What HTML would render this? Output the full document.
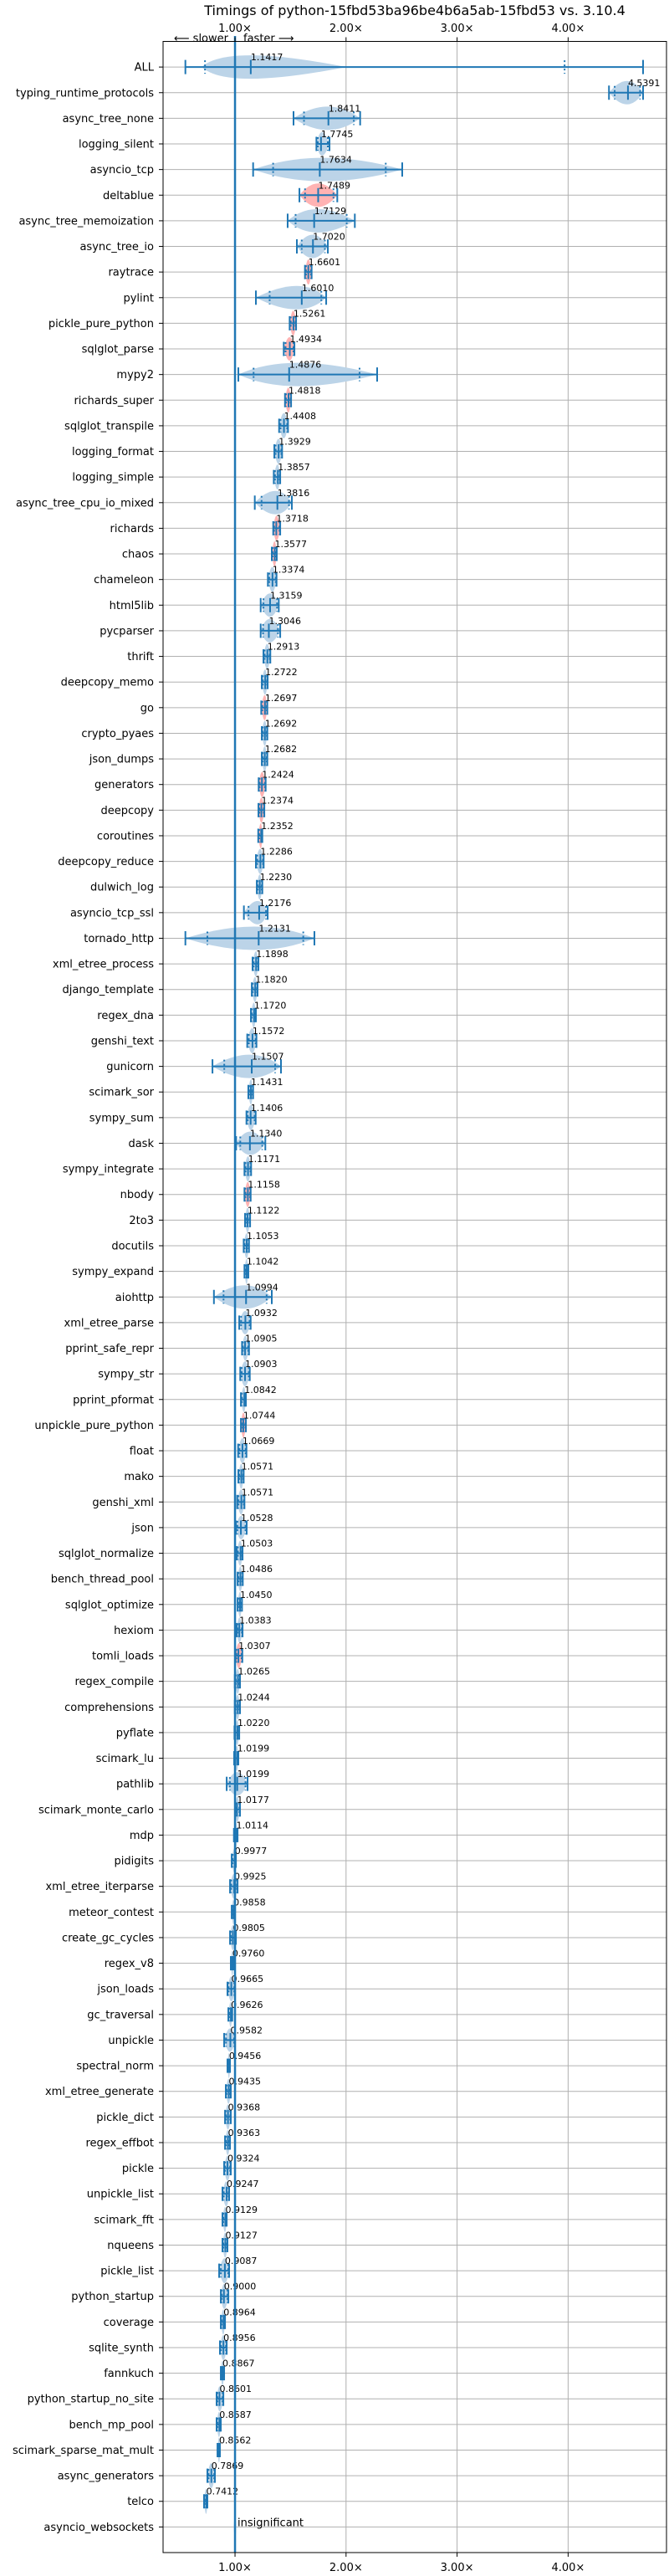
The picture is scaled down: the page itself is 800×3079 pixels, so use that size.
<!DOCTYPE html>
<html><head><meta charset="utf-8"><style>
html,body{margin:0;padding:0;background:#fff;}
svg{display:block;font-family:"DejaVu Sans","Liberation Sans",sans-serif;}
</style></head><body>
<svg id="chart" width="800" height="3079" viewBox="0 0 800 3079" xmlns="http://www.w3.org/2000/svg">
<text x="496" y="18" font-size="16" text-anchor="middle" fill="#000">Timings of python-15fbd53ba96be4b6a5ab-15fbd53 vs. 3.10.4</text>
<text x="281" y="50" font-size="13" fill="#000"><tspan text-anchor="end" x="273">⟵ slower</tspan><tspan x="291">faster ⟶</tspan></text>
<g id="grid"></g><g id="marks"></g><g id="axes"></g>
</svg>
<script>
const names=["ALL","typing_runtime_protocols","async_tree_none","logging_silent","asyncio_tcp","deltablue","async_tree_memoization","async_tree_io","raytrace","pylint","pickle_pure_python","sqlglot_parse","mypy2","richards_super","sqlglot_transpile","logging_format","logging_simple","async_tree_cpu_io_mixed","richards","chaos","chameleon","html5lib","pycparser","thrift","deepcopy_memo","go","crypto_pyaes","json_dumps","generators","deepcopy","coroutines","deepcopy_reduce","dulwich_log","asyncio_tcp_ssl","tornado_http","xml_etree_process","django_template","regex_dna","genshi_text","gunicorn","scimark_sor","sympy_sum","dask","sympy_integrate","nbody","2to3","docutils","sympy_expand","aiohttp","xml_etree_parse","pprint_safe_repr","sympy_str","pprint_pformat","unpickle_pure_python","float","mako","genshi_xml","json","sqlglot_normalize","bench_thread_pool","sqlglot_optimize","hexiom","tomli_loads","regex_compile","comprehensions","pyflate","scimark_lu","pathlib","scimark_monte_carlo","mdp","pidigits","xml_etree_iterparse","meteor_contest","create_gc_cycles","regex_v8","json_loads","gc_traversal","unpickle","spectral_norm","xml_etree_generate","pickle_dict","regex_effbot","pickle","unpickle_list","scimark_fft","nqueens","pickle_list","python_startup","coverage","sqlite_synth","fannkuch","python_startup_no_site","bench_mp_pool","scimark_sparse_mat_mult","async_generators","telco","asyncio_websockets"];
const medians=[1.1417,4.5391,1.8411,1.7745,1.7634,1.7489,1.7129,1.7020,1.6601,1.6010,1.5261,1.4934,1.4876,1.4818,1.4408,1.3929,1.3857,1.3816,1.3718,1.3577,1.3374,1.3159,1.3046,1.2913,1.2722,1.2697,1.2692,1.2682,1.2424,1.2374,1.2352,1.2286,1.2230,1.2176,1.2131,1.1898,1.1820,1.1720,1.1572,1.1507,1.1431,1.1406,1.1340,1.1171,1.1158,1.1122,1.1053,1.1042,1.0994,1.0932,1.0905,1.0903,1.0842,1.0744,1.0669,1.0571,1.0571,1.0528,1.0503,1.0486,1.0450,1.0383,1.0307,1.0265,1.0244,1.0220,1.0199,1.0199,1.0177,1.0114,0.9977,0.9925,0.9858,0.9805,0.9760,0.9665,0.9626,0.9582,0.9456,0.9435,0.9368,0.9363,0.9324,0.9247,0.9129,0.9127,0.9087,0.9000,0.8964,0.8956,0.8867,0.8601,0.8587,0.8562,0.7869,0.7412,1.0000];
const lows=[0.553,4.368,1.527,1.733,1.163,1.580,1.474,1.557,1.630,1.188,1.492,1.439,1.030,1.450,1.397,1.354,1.349,1.178,1.344,1.331,1.296,1.231,1.231,1.256,1.241,1.236,1.241,1.241,1.213,1.211,1.209,1.188,1.196,1.080,0.553,1.158,1.151,1.143,1.110,0.797,1.120,1.103,1.010,1.085,1.085,1.090,1.078,1.085,0.810,1.038,1.063,1.047,1.053,1.053,1.028,1.030,1.020,1.008,1.015,1.023,1.023,1.015,1.005,0.998,0.998,0.995,0.992,0.925,1.000,0.990,0.970,0.955,0.970,0.955,0.962,0.932,0.940,0.902,0.932,0.917,0.910,0.910,0.902,0.887,0.887,0.887,0.857,0.872,0.872,0.864,0.872,0.834,0.834,0.842,0.751,0.721,0.995];
const highs=[4.675,4.675,2.127,1.851,2.506,1.921,2.079,1.836,1.690,1.821,1.550,1.535,2.280,1.505,1.477,1.424,1.407,1.512,1.407,1.376,1.374,1.394,1.407,1.318,1.294,1.291,1.291,1.291,1.276,1.264,1.246,1.258,1.246,1.294,1.715,1.211,1.203,1.188,1.193,1.414,1.163,1.186,1.273,1.145,1.141,1.136,1.126,1.120,1.331,1.141,1.126,1.133,1.098,1.098,1.103,1.078,1.085,1.105,1.068,1.070,1.063,1.068,1.066,1.045,1.045,1.038,1.030,1.113,1.045,1.023,1.008,1.023,1.000,1.008,0.985,1.000,0.975,1.000,0.955,0.962,0.962,0.955,0.962,0.947,0.925,0.932,0.947,0.940,0.910,0.925,0.902,0.895,0.872,0.864,0.819,0.751,1.005];
const slowerFlags=[0,0,0,0,0,1,0,0,1,0,1,1,0,1,0,0,0,0,1,1,0,0,0,0,0,1,0,0,1,1,1,0,0,0,0,0,0,0,0,0,0,0,0,0,1,0,0,0,0,0,0,0,0,1,0,0,0,0,0,0,0,0,1,0,0,0,0,0,0,0,0,0,0,0,0,0,0,0,0,0,0,0,0,0,0,0,0,0,0,0,0,0,0,0,0,0,0];
// violin density extents that differ from whisker extents (name -> [low, peak, high])
const violinOverrides={"ALL":[0.70,0.93,2.00]};
const xTicks=[1,2,3,4];
const xTickLabels=["1.00×","2.00×","3.00×","4.00×"];
const insignificantLabel="insignificant";

const NS="http://www.w3.org/2000/svg";
const L=195,R=797,T=49.5,B=3051;
const X0=0.352,X1=4.886;
function xs(v){return L+(v-X0)/(X1-X0)*(R-L);}
function ys(i){return T+(i+1)*(B-T)/(names.length+1);}
function mk(tag,attrs,parent){const e=document.createElementNS(NS,tag);for(const k in attrs)e.setAttribute(k,attrs[k]);parent.appendChild(e);return e;}
const grid=document.getElementById('grid'),marks=document.getElementById('marks'),axes=document.getElementById('axes');
const blue="#1f77b4";
names.forEach((n,i)=>{const g=mk('line',{x1:L,x2:R,y1:ys(i),y2:ys(i),stroke:"#b0b0b0","stroke-width":1},grid);

});
xTicks.forEach((t,i)=>{if(t===1)return;const g=mk('line',{x1:xs(t),x2:xs(t),y1:T,y2:B,stroke:"#b0b0b0","stroke-width":1},grid);

});
names.forEach((n,i)=>{
  const y=ys(i),lo=xs(lows[i]),hi=xs(highs[i]),md=xs(medians[i]);
  const grp=mk('g',{},marks);
  
  
  const h=(hi-lo)<12?15:14;
  const fill=slowerFlags[i]?"#ffb3b3":"#bcd4e8";
  let vlo=Math.min(lo,md-1.5),vhi=Math.max(hi,md+1.5),vpk=md;
  if(violinOverrides[n]){vlo=xs(violinOverrides[n][0]);vpk=xs(violinOverrides[n][1]);vhi=xs(violinOverrides[n][2]);}
  const p=mk('path',{d:`M${vlo},${y} Q${vpk},${y-2*h} ${vhi},${y} Q${vpk},${y+2*h} ${vlo},${y} Z`,fill:fill,stroke:"none"},grp);
  
  
  if(n==="asyncio_websockets"){
    const t=mk('text',{x:xs(1)+3,y:y-1,"font-size":13,fill:"#000"},grp);t.textContent=insignificantLabel;
    
    
    return;
  }
  const w=mk('line',{x1:lo,x2:hi,y1:y,y2:y,stroke:blue,"stroke-width":2},grp);
  
  
  [lo,hi,md].forEach(xx=>{const c=mk('line',{x1:xx,x2:xx,y1:y-8.5,y2:y+8.5,stroke:blue,"stroke-width":2},grp);
    
    });
  const q1=lo+(md-lo)*0.3,q3=hi-(hi-md)*0.2;
  [q1,q3].forEach(xx=>{const c=mk('line',{x1:xx,x2:xx,y1:y-8,y2:y+8,stroke:blue,"stroke-width":2,"stroke-dasharray":"2,3"},grp);
    
    });
  const t=mk('text',{x:md,y:y-8,"font-size":11,fill:"#000"},grp);t.textContent=medians[i].toFixed(4);
  
  
});
const ref=mk('line',{x1:xs(1),x2:xs(1),y1:43,y2:B,stroke:blue,"stroke-width":2.5},axes);


const fr=mk('rect',{x:L,y:T,width:R-L,height:B-T,fill:"none",stroke:"#000","stroke-width":1},axes);


names.forEach((n,i)=>{const y=ys(i);
  const tk=mk('line',{x1:L-5,x2:L,y1:y,y2:y,stroke:"#000","stroke-width":1},axes);
  
  
  const t=mk('text',{x:L-11,y:y+4.5,"font-size":13,"text-anchor":"end",fill:"#000"},axes);t.textContent=n;
  
  });
xTicks.forEach((t,i)=>{const x=xs(t);
  const a=mk('line',{x1:x,x2:x,y1:B,y2:B+5,stroke:"#000","stroke-width":1},axes);
  
  
  const b=mk('line',{x1:x,x2:x,y1:T-5,y2:T,stroke:"#000","stroke-width":1},axes);
  
  
  const l1=mk('text',{x:x,y:B+22,"font-size":13,"text-anchor":"middle",fill:"#000"},axes);l1.textContent=xTickLabels[i];
  
  
  const l2=mk('text',{x:x,y:38,"font-size":13,"text-anchor":"middle",fill:"#000"},axes);l2.textContent=xTickLabels[i];
  
  
});
</script>
</body></html>
